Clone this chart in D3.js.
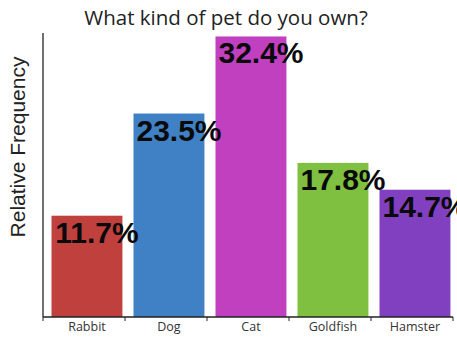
<!DOCTYPE html>
<html>
<head>
<meta charset="utf-8">
<script src="https://cdn.jsdelivr.net/npm/d3@7"></script>
<style>
  html, body { margin: 0; padding: 0; background: #fff; }
  svg { display: block; }
</style>
</head>
<body>
<svg id="chart" width="457" height="337"></svg>
<script>
// Survey results: share of respondents by pet type
const categories = ["Rabbit", "Dog", "Cat", "Goldfish", "Hamster"];
const values = [11.7, 23.5, 32.4, 17.8, 14.7];
const valueLabels = ["11.7%", "23.5%", "32.4%", "17.8%", "14.7%"];
const colors = ["#c0403e", "#4080c4", "#c040c0", "#80c040", "#8040c0"];

const svg = d3.select("#chart");
const plotLeft = 43, plotRight = 453, plotTop = 33, plotBottom = 317;

const x = d3.scaleBand().domain(categories).range([plotLeft, plotRight]).padding(0);
const y = d3.scaleLinear().domain([0, 32.8]).range([plotBottom, plotTop]);

const bw = x.bandwidth();
const barOffset = 8.5, barWidth = bw * 0.865;

// Bars
svg.append("g").selectAll("rect")
  .data(categories)
  .join("rect")
  .attr("x", d => x(d) + barOffset)
  .attr("y", (d, i) => y(values[i]))
  .attr("width", barWidth)
  .attr("height", (d, i) => plotBottom - y(values[i]))
  .attr("fill", (d, i) => colors[i]);

// Value labels
svg.append("g").selectAll("text")
  .data(categories)
  .join("text")
  .attr("x", d => x(d) + bw / 2 + 13)
  .attr("y", (d, i) => y(values[i]) + 27)
  .attr("text-anchor", "middle")
  .attr("font-family", "Liberation Sans, Arial, sans-serif")
  .attr("font-weight", "bold")
  .attr("font-size", 30)
  .attr("fill", "#0a0a0a")
  .text((d, i) => valueLabels[i]);

// Axes
const axisColor = "#222";
svg.append("line")
  .attr("x1", plotLeft).attr("x2", plotLeft)
  .attr("y1", plotTop).attr("y2", plotBottom)
  .attr("stroke", axisColor).attr("stroke-width", 1.3);
svg.append("line")
  .attr("x1", plotLeft).attr("x2", plotRight)
  .attr("y1", plotBottom).attr("y2", plotBottom)
  .attr("stroke", axisColor).attr("stroke-width", 1.6);

const boundaries = categories.map(d => x(d)).concat([x(categories[categories.length - 1]) + bw]);
svg.append("g").selectAll("line")
  .data(boundaries)
  .join("line")
  .attr("x1", d => d).attr("x2", d => d)
  .attr("y1", plotBottom).attr("y2", plotBottom + 4)
  .attr("stroke", axisColor).attr("stroke-width", 1);

// Category labels
svg.append("g").selectAll("text")
  .data(categories)
  .join("text")
  .attr("x", d => x(d) + barOffset + barWidth / 2)
  .attr("y", 331)
  .attr("text-anchor", "middle")
  .attr("font-family", "Open Sans, Noto Sans, sans-serif")
  .attr("font-size", 12.5)
  .attr("fill", "#333")
  .text(d => d);

// Title
svg.append("text")
  .attr("x", 226).attr("y", 25)
  .attr("text-anchor", "middle")
  .attr("font-family", "Open Sans, Noto Sans, sans-serif")
  .attr("font-size", 20.5)
  .attr("fill", "#222")
  .text("What kind of pet do you own?");

// Y axis title
svg.append("text")
  .attr("transform", "translate(25,147) rotate(-90)")
  .attr("text-anchor", "middle")
  .attr("font-family", "Liberation Sans, Arial, sans-serif")
  .attr("font-size", 21)
  .attr("fill", "#222")
  .text("Relative Frequency");
</script>
</body>
</html>
